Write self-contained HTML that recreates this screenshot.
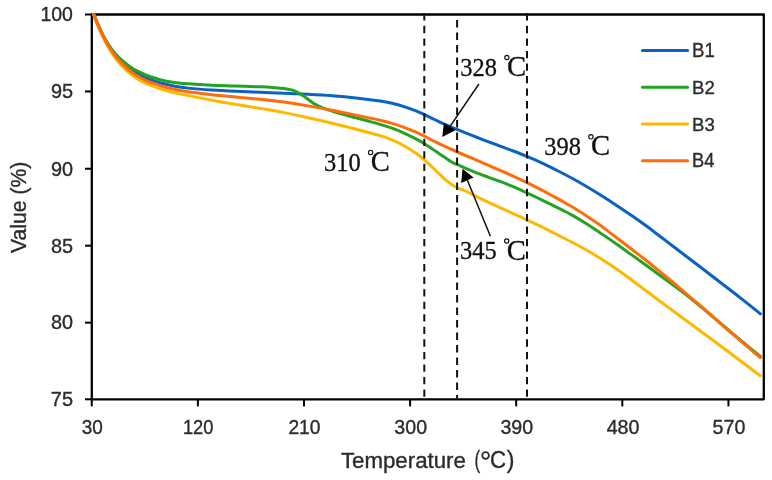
<!DOCTYPE html>
<html><head><meta charset="utf-8"><title>TGA chart</title>
<style>
html,body{margin:0;padding:0;background:#fff;}
body{width:772px;height:480px;overflow:hidden;}
svg{display:block;will-change:transform;filter:blur(0.65px);}
text{font-family:"Liberation Sans",sans-serif;fill:#2b2b2b;stroke:#2b2b2b;stroke-width:0.35px;}
.ser{font-family:"Liberation Serif",serif;fill:#111;stroke:#111;stroke-width:0.3px;}
</style></head><body>
<svg width="772" height="480" viewBox="0 0 772 480">
<rect x="0" y="0" width="772" height="480" fill="#ffffff"/>
<path d="M91.8,14.5 H763.8 V399.3 H91.8 Z" fill="none" stroke="#000" stroke-width="2.3" stroke-linejoin="round"/>
<path d="M93.75,14.60 C94.38,16.11 96.21,20.67 97.50,23.65 C98.79,26.62 100.33,30.02 101.50,32.45 C102.67,34.88 103.46,36.30 104.50,38.21 C105.54,40.12 106.62,42.06 107.75,43.90 C108.88,45.74 110.12,47.62 111.25,49.24 C112.38,50.86 113.38,52.18 114.50,53.60 C115.62,55.02 116.75,56.42 118.00,57.78 C119.25,59.14 120.67,60.51 122.00,61.78 C123.33,63.05 124.67,64.27 126.00,65.42 C127.33,66.57 128.67,67.66 130.00,68.67 C131.33,69.68 132.83,70.72 134.00,71.50 C135.17,72.28 135.17,72.35 137.00,73.36 C138.83,74.37 142.33,76.36 145.00,77.55 C147.67,78.74 150.50,79.63 153.00,80.49 C155.50,81.35 157.50,82.01 160.00,82.72 C162.50,83.43 165.00,84.09 168.00,84.77 C171.00,85.44 174.67,86.22 178.00,86.77 C181.33,87.33 182.33,87.58 188.00,88.12 C193.67,88.66 204.00,89.48 212.00,90.02 C220.00,90.55 228.00,90.93 236.00,91.31 C244.00,91.70 252.00,91.99 260.00,92.32 C268.00,92.65 276.00,92.94 284.00,93.28 C292.00,93.62 300.00,93.93 308.00,94.35 C316.00,94.77 324.00,95.19 332.00,95.79 C340.00,96.39 348.00,97.08 356.00,97.95 C364.00,98.82 374.00,100.13 380.00,101.02 C386.00,101.91 388.00,102.37 392.00,103.29 C396.00,104.22 400.00,105.32 404.00,106.58 C408.00,107.83 412.67,109.52 416.00,110.81 C419.33,112.10 420.83,112.82 424.00,114.31 C427.17,115.79 431.50,118.04 435.00,119.73 C438.50,121.42 441.35,122.83 445.00,124.45 C448.65,126.07 453.15,127.92 456.90,129.46 C460.65,131.00 464.32,132.42 467.50,133.68 C470.68,134.94 472.58,135.70 476.00,137.02 C479.42,138.35 484.00,140.10 488.00,141.61 C492.00,143.11 496.00,144.55 500.00,146.04 C504.00,147.52 507.52,148.78 512.00,150.49 C516.48,152.21 522.48,154.52 526.90,156.34 C531.32,158.15 534.48,159.54 538.50,161.38 C542.52,163.23 546.83,165.34 551.00,167.40 C555.17,169.46 560.00,171.94 563.50,173.74 C567.00,175.55 568.58,176.37 572.00,178.24 C575.42,180.12 580.00,182.66 584.00,184.98 C588.00,187.31 592.00,189.72 596.00,192.18 C600.00,194.65 604.00,197.20 608.00,199.78 C612.00,202.36 616.00,204.98 620.00,207.64 C624.00,210.31 628.00,213.00 632.00,215.78 C636.00,218.56 640.00,221.41 644.00,224.32 C648.00,227.24 652.00,230.26 656.00,233.27 C660.00,236.29 664.67,239.88 668.00,242.42 C671.33,244.97 670.50,244.34 676.00,248.52 C681.50,252.71 692.67,261.17 701.00,267.53 C709.33,273.90 719.12,281.38 726.00,286.69 C732.88,292.00 736.52,294.86 742.25,299.38 C747.98,303.89 757.38,311.40 760.40,313.80" fill="none" stroke="#0a62c4" stroke-width="3.0" stroke-linecap="round" stroke-linejoin="round"/>
<path d="M93.75,14.60 C94.38,16.07 96.21,20.52 97.50,23.45 C98.79,26.38 100.33,29.74 101.50,32.15 C102.67,34.56 103.46,36.02 104.50,37.91 C105.54,39.80 106.62,41.70 107.75,43.50 C108.88,45.30 110.12,47.17 111.25,48.74 C112.38,50.31 113.38,51.58 114.50,52.90 C115.62,54.22 116.75,55.43 118.00,56.68 C119.25,57.93 120.67,59.21 122.00,60.38 C123.33,61.55 124.67,62.66 126.00,63.72 C127.33,64.78 128.67,65.84 130.00,66.77 C131.33,67.70 132.83,68.62 134.00,69.30 C135.17,69.98 135.17,69.95 137.00,70.86 C138.83,71.77 142.33,73.64 145.00,74.75 C147.67,75.86 150.50,76.68 153.00,77.49 C155.50,78.30 157.50,78.95 160.00,79.60 C162.50,80.26 165.00,80.87 168.00,81.42 C171.00,81.98 174.67,82.53 178.00,82.94 C181.33,83.35 182.33,83.48 188.00,83.86 C193.67,84.24 204.00,84.84 212.00,85.21 C220.00,85.58 228.00,85.82 236.00,86.09 C244.00,86.36 253.50,86.58 260.00,86.85 C266.50,87.11 271.00,87.40 275.00,87.67 C279.00,87.95 281.25,88.13 284.00,88.50 C286.75,88.87 289.42,89.35 291.50,89.90 C293.58,90.45 294.62,90.87 296.50,91.80 C298.38,92.73 300.83,94.27 302.75,95.50 C304.67,96.73 306.12,97.85 308.00,99.20 C309.88,100.55 311.75,102.23 314.00,103.60 C316.25,104.97 318.50,106.16 321.50,107.40 C324.50,108.64 328.25,109.84 332.00,111.05 C335.75,112.26 340.00,113.52 344.00,114.65 C348.00,115.79 352.00,116.80 356.00,117.86 C360.00,118.92 364.00,119.93 368.00,121.02 C372.00,122.10 376.00,123.15 380.00,124.34 C384.00,125.54 388.00,126.76 392.00,128.21 C396.00,129.65 400.00,131.25 404.00,133.03 C408.00,134.81 412.67,137.13 416.00,138.88 C419.33,140.63 420.83,141.54 424.00,143.51 C427.17,145.49 431.50,148.40 435.00,150.75 C438.50,153.10 442.17,155.68 445.00,157.60 C447.83,159.53 450.02,161.17 452.00,162.30 C453.98,163.43 454.32,163.26 456.90,164.40 C459.48,165.54 464.32,167.75 467.50,169.11 C470.68,170.48 472.58,171.27 476.00,172.60 C479.42,173.93 484.00,175.60 488.00,177.07 C492.00,178.55 496.00,179.93 500.00,181.46 C504.00,182.98 507.52,184.33 512.00,186.23 C516.48,188.13 522.48,190.82 526.90,192.84 C531.32,194.85 534.48,196.38 538.50,198.31 C542.52,200.24 546.83,202.35 551.00,204.41 C555.17,206.47 560.00,208.88 563.50,210.67 C567.00,212.47 568.58,213.26 572.00,215.18 C575.42,217.09 580.00,219.72 584.00,222.18 C588.00,224.63 592.00,227.24 596.00,229.90 C600.00,232.56 604.00,235.35 608.00,238.12 C612.00,240.90 616.00,243.72 620.00,246.55 C624.00,249.38 628.00,252.23 632.00,255.10 C636.00,257.97 640.00,260.87 644.00,263.77 C648.00,266.66 652.00,269.58 656.00,272.49 C660.00,275.40 664.00,278.29 668.00,281.23 C672.00,284.18 676.00,287.12 680.00,290.16 C684.00,293.19 688.00,296.29 692.00,299.47 C696.00,302.65 700.00,305.92 704.00,309.24 C708.00,312.56 712.67,316.55 716.00,319.39 C719.33,322.22 720.67,323.41 724.00,326.24 C727.33,329.07 732.00,333.04 736.00,336.40 C740.00,339.75 743.93,343.00 748.00,346.35 C752.07,349.70 758.33,354.81 760.40,356.50" fill="none" stroke="#22a322" stroke-width="3.0" stroke-linecap="round" stroke-linejoin="round"/>
<path d="M93.75,14.60 C94.38,16.29 96.21,21.49 97.50,24.75 C98.79,28.01 100.33,31.56 101.50,34.15 C102.67,36.74 103.46,38.28 104.50,40.31 C105.54,42.33 106.62,44.35 107.75,46.30 C108.88,48.26 110.12,50.29 111.25,52.04 C112.38,53.79 113.38,55.24 114.50,56.80 C115.62,58.36 116.75,59.83 118.00,61.38 C119.25,62.93 120.67,64.64 122.00,66.08 C123.33,67.52 124.67,68.79 126.00,70.02 C127.33,71.25 128.67,72.39 130.00,73.47 C131.33,74.55 132.83,75.67 134.00,76.50 C135.17,77.33 135.17,77.38 137.00,78.46 C138.83,79.53 142.33,81.66 145.00,82.95 C147.67,84.24 150.50,85.24 153.00,86.20 C155.50,87.16 157.50,87.90 160.00,88.70 C162.50,89.51 165.00,90.24 168.00,91.03 C171.00,91.82 174.67,92.69 178.00,93.45 C181.33,94.21 182.33,94.45 188.00,95.58 C193.67,96.71 204.00,98.76 212.00,100.24 C220.00,101.71 228.00,103.08 236.00,104.43 C244.00,105.78 252.00,106.99 260.00,108.36 C268.00,109.73 276.00,111.09 284.00,112.65 C292.00,114.21 300.00,115.93 308.00,117.71 C316.00,119.48 324.00,121.39 332.00,123.31 C340.00,125.23 348.00,127.16 356.00,129.22 C364.00,131.28 374.00,133.90 380.00,135.67 C386.00,137.45 388.00,138.19 392.00,139.87 C396.00,141.54 400.00,143.48 404.00,145.72 C408.00,147.97 412.67,151.02 416.00,153.34 C419.33,155.67 420.83,156.95 424.00,159.68 C427.17,162.41 431.50,166.46 435.00,169.75 C438.50,173.03 442.08,176.86 445.00,179.40 C447.92,181.94 450.52,183.63 452.50,185.00 C454.48,186.37 454.40,186.43 456.90,187.60 C459.40,188.77 464.32,190.55 467.50,192.00 C470.68,193.45 472.58,194.62 476.00,196.30 C479.42,197.98 484.00,200.21 488.00,202.10 C492.00,203.98 496.00,205.80 500.00,207.62 C504.00,209.44 507.52,210.99 512.00,213.02 C516.48,215.05 522.48,217.75 526.90,219.81 C531.32,221.86 534.48,223.38 538.50,225.35 C542.52,227.31 546.83,229.50 551.00,231.59 C555.17,233.69 560.00,236.14 563.50,237.92 C567.00,239.70 568.58,240.47 572.00,242.27 C575.42,244.08 580.00,246.49 584.00,248.73 C588.00,250.97 592.00,253.28 596.00,255.71 C600.00,258.14 604.00,260.69 608.00,263.32 C612.00,265.95 616.00,268.70 620.00,271.51 C624.00,274.33 628.00,277.26 632.00,280.21 C636.00,283.15 640.00,286.19 644.00,289.19 C648.00,292.19 652.00,295.21 656.00,298.20 C660.00,301.19 664.00,304.17 668.00,307.13 C672.00,310.10 676.00,313.04 680.00,315.99 C684.00,318.94 688.00,321.88 692.00,324.83 C696.00,327.78 700.00,330.73 704.00,333.68 C708.00,336.63 712.67,340.08 716.00,342.55 C719.33,345.03 720.35,345.78 724.00,348.51 C727.65,351.24 731.87,354.40 737.90,358.93 C743.93,363.46 756.48,372.91 760.20,375.70" fill="none" stroke="#fdb900" stroke-width="3.0" stroke-linecap="round" stroke-linejoin="round"/>
<path d="M93.75,14.60 C94.38,16.16 96.21,20.89 97.50,23.95 C98.79,27.01 100.33,30.46 101.50,32.95 C102.67,35.44 103.46,36.95 104.50,38.91 C105.54,40.87 106.62,42.81 107.75,44.70 C108.88,46.59 110.12,48.56 111.25,50.24 C112.38,51.92 113.38,53.31 114.50,54.80 C115.62,56.29 116.75,57.72 118.00,59.18 C119.25,60.64 120.67,62.21 122.00,63.58 C123.33,64.95 124.67,66.22 126.00,67.42 C127.33,68.62 128.67,69.72 130.00,70.77 C131.33,71.82 132.83,72.89 134.00,73.70 C135.17,74.52 135.17,74.60 137.00,75.66 C138.83,76.72 142.33,78.79 145.00,80.05 C147.67,81.31 150.50,82.27 153.00,83.20 C155.50,84.12 157.50,84.83 160.00,85.60 C162.50,86.37 165.00,87.08 168.00,87.82 C171.00,88.55 174.67,89.37 178.00,90.01 C181.33,90.65 182.33,90.89 188.00,91.67 C193.67,92.44 204.00,93.74 212.00,94.64 C220.00,95.54 228.00,96.27 236.00,97.05 C244.00,97.83 252.00,98.46 260.00,99.30 C268.00,100.14 276.00,101.01 284.00,102.11 C292.00,103.21 300.00,104.50 308.00,105.88 C316.00,107.25 324.00,108.80 332.00,110.34 C340.00,111.88 348.00,113.46 356.00,115.11 C364.00,116.75 374.00,118.85 380.00,120.22 C386.00,121.59 388.00,122.14 392.00,123.32 C396.00,124.51 400.00,125.85 404.00,127.33 C408.00,128.80 412.67,130.74 416.00,132.18 C419.33,133.63 420.83,134.40 424.00,135.97 C427.17,137.55 431.50,139.86 435.00,141.61 C438.50,143.36 441.35,144.78 445.00,146.47 C448.65,148.16 453.15,150.12 456.90,151.75 C460.65,153.39 464.32,154.93 467.50,156.29 C470.68,157.66 472.58,158.47 476.00,159.94 C479.42,161.41 484.00,163.38 488.00,165.10 C492.00,166.82 496.00,168.52 500.00,170.26 C504.00,172.01 507.52,173.52 512.00,175.56 C516.48,177.61 522.48,180.40 526.90,182.53 C531.32,184.65 534.48,186.26 538.50,188.33 C542.52,190.41 546.83,192.72 551.00,194.98 C555.17,197.25 560.00,199.94 563.50,201.92 C567.00,203.90 568.58,204.78 572.00,206.84 C575.42,208.89 580.00,211.65 584.00,214.24 C588.00,216.82 592.00,219.52 596.00,222.33 C600.00,225.15 604.00,228.13 608.00,231.11 C612.00,234.09 616.00,237.17 620.00,240.23 C624.00,243.29 628.00,246.38 632.00,249.47 C636.00,252.56 640.00,255.65 644.00,258.80 C648.00,261.94 652.00,265.10 656.00,268.34 C660.00,271.58 664.00,274.89 668.00,278.23 C672.00,281.58 676.00,284.99 680.00,288.39 C684.00,291.79 688.00,295.19 692.00,298.61 C696.00,302.03 700.00,305.45 704.00,308.92 C708.00,312.39 712.67,316.52 716.00,319.45 C719.33,322.38 720.67,323.61 724.00,326.52 C727.33,329.43 732.00,333.49 736.00,336.93 C740.00,340.37 743.95,343.71 748.00,347.14 C752.05,350.57 758.25,355.77 760.30,357.50" fill="none" stroke="#ff6d0a" stroke-width="3.0" stroke-linecap="round" stroke-linejoin="round"/>
<line x1="424.3" y1="13.3" x2="424.3" y2="397.2" stroke="#111" stroke-width="2.0" stroke-dasharray="7.3 5.24"/>
<line x1="457.1" y1="20.0" x2="457.1" y2="398.6" stroke="#111" stroke-width="2.0" stroke-dasharray="7.4 5.1"/>
<line x1="527.0" y1="13.3" x2="527.0" y2="397.2" stroke="#111" stroke-width="2.0" stroke-dasharray="7.3 5.24"/>
<line x1="85" y1="14.50" x2="91.8" y2="14.50" stroke="#000" stroke-width="2"/>
<text x="40.44" y="21.35" font-size="19.35" textLength="32.51" lengthAdjust="spacingAndGlyphs">100</text>
<line x1="85" y1="91.46" x2="91.8" y2="91.46" stroke="#000" stroke-width="2"/>
<text x="50.90" y="98.31" font-size="19.35" textLength="22.14" lengthAdjust="spacingAndGlyphs">95</text>
<line x1="85" y1="168.72" x2="91.8" y2="168.72" stroke="#000" stroke-width="2"/>
<text x="50.91" y="175.57" font-size="19.35" textLength="22.08" lengthAdjust="spacingAndGlyphs">90</text>
<line x1="85" y1="245.68" x2="91.8" y2="245.68" stroke="#000" stroke-width="2"/>
<text x="50.96" y="252.53" font-size="19.35" textLength="22.08" lengthAdjust="spacingAndGlyphs">85</text>
<line x1="85" y1="322.64" x2="91.8" y2="322.64" stroke="#000" stroke-width="2"/>
<text x="50.96" y="329.49" font-size="19.35" textLength="22.03" lengthAdjust="spacingAndGlyphs">80</text>
<line x1="85" y1="399.30" x2="91.8" y2="399.30" stroke="#000" stroke-width="2"/>
<text x="50.80" y="406.15" font-size="19.64" textLength="22.25" lengthAdjust="spacingAndGlyphs">75</text>
<line x1="91.75" y1="399.3" x2="91.75" y2="406.4" stroke="#000" stroke-width="2"/>
<text x="81.84" y="434.10" font-size="19.35" textLength="21.06" lengthAdjust="spacingAndGlyphs">30</text>
<line x1="197.86" y1="399.3" x2="197.86" y2="406.4" stroke="#000" stroke-width="2"/>
<text x="182.89" y="434.10" font-size="19.35" textLength="30.47" lengthAdjust="spacingAndGlyphs">120</text>
<line x1="303.98" y1="399.3" x2="303.98" y2="406.4" stroke="#000" stroke-width="2"/>
<text x="288.41" y="434.10" font-size="19.35" textLength="32.10" lengthAdjust="spacingAndGlyphs">210</text>
<line x1="410.09" y1="399.3" x2="410.09" y2="406.4" stroke="#000" stroke-width="2"/>
<text x="394.35" y="434.10" font-size="19.35" textLength="32.69" lengthAdjust="spacingAndGlyphs">300</text>
<line x1="516.20" y1="399.3" x2="516.20" y2="406.4" stroke="#000" stroke-width="2"/>
<text x="500.47" y="434.10" font-size="19.35" textLength="32.69" lengthAdjust="spacingAndGlyphs">390</text>
<line x1="622.32" y1="399.3" x2="622.32" y2="406.4" stroke="#000" stroke-width="2"/>
<text x="606.67" y="434.10" font-size="19.35" textLength="32.80" lengthAdjust="spacingAndGlyphs">480</text>
<line x1="728.43" y1="399.3" x2="728.43" y2="406.4" stroke="#000" stroke-width="2"/>
<text x="712.64" y="434.10" font-size="19.35" textLength="32.74" lengthAdjust="spacingAndGlyphs">570</text>
<text x="340.95" y="467.70" font-size="21.24" textLength="124.92" lengthAdjust="spacingAndGlyphs" stroke-width="0.6">Temperature</text>
<text x="474.49" y="467.50" font-size="23.00" textLength="5.60" lengthAdjust="spacingAndGlyphs" stroke-width="0.6">(</text>
<circle cx="485.6" cy="455.5" r="3.35" fill="none" stroke="#2b2b2b" stroke-width="1.8"/>
<text x="489.89" y="467.90" font-size="23.37" textLength="16.04" lengthAdjust="spacingAndGlyphs" stroke-width="0.6">C</text>
<text x="506.88" y="467.50" font-size="23.00" textLength="7.72" lengthAdjust="spacingAndGlyphs" stroke-width="0.6">)</text>
<g transform="translate(25.8,253.0) rotate(-90)"><text x="-0.05" y="0.00" font-size="21.24" textLength="91.35" lengthAdjust="spacingAndGlyphs" stroke-width="0.6">Value (%)</text></g>
<line x1="642.4" y1="50.4" x2="687.6" y2="50.4" stroke="#0a62c4" stroke-width="3.0" stroke-linecap="round"/>
<text x="692.01" y="57.10" font-size="19.49" textLength="22.79" lengthAdjust="spacingAndGlyphs">B1</text>
<line x1="642.4" y1="87.2" x2="687.6" y2="87.2" stroke="#22a322" stroke-width="3.0" stroke-linecap="round"/>
<text x="692.01" y="93.85" font-size="19.21" textLength="22.79" lengthAdjust="spacingAndGlyphs">B2</text>
<line x1="642.4" y1="123.9" x2="687.6" y2="123.9" stroke="#fdb900" stroke-width="3.0" stroke-linecap="round"/>
<text x="692.02" y="130.60" font-size="19.21" textLength="22.68" lengthAdjust="spacingAndGlyphs">B3</text>
<line x1="642.4" y1="160.7" x2="687.6" y2="160.7" stroke="#ff6d0a" stroke-width="3.0" stroke-linecap="round"/>
<text x="692.04" y="167.35" font-size="19.49" textLength="22.38" lengthAdjust="spacingAndGlyphs">B4</text>
<text class="ser" x="323.94" y="170.80" font-size="25.11" textLength="36.68" lengthAdjust="spacingAndGlyphs">310</text>
<circle cx="370.6" cy="152.4" r="2.15" fill="none" stroke="#111" stroke-width="1.15"/>
<text class="ser" x="370.75" y="170.90" font-size="28.68" textLength="19.11" lengthAdjust="spacingAndGlyphs">C</text>
<text class="ser" x="460.24" y="75.90" font-size="25.11" textLength="36.68" lengthAdjust="spacingAndGlyphs">328</text>
<circle cx="506.9" cy="57.5" r="2.15" fill="none" stroke="#111" stroke-width="1.15"/>
<text class="ser" x="507.05" y="76.00" font-size="28.68" textLength="19.11" lengthAdjust="spacingAndGlyphs">C</text>
<text class="ser" x="544.24" y="155.20" font-size="25.11" textLength="36.68" lengthAdjust="spacingAndGlyphs">398</text>
<circle cx="590.9" cy="136.8" r="2.15" fill="none" stroke="#111" stroke-width="1.15"/>
<text class="ser" x="591.05" y="155.30" font-size="28.68" textLength="19.11" lengthAdjust="spacingAndGlyphs">C</text>
<text class="ser" x="460.04" y="259.40" font-size="25.21" textLength="36.68" lengthAdjust="spacingAndGlyphs">345</text>
<circle cx="506.7" cy="241.0" r="2.15" fill="none" stroke="#111" stroke-width="1.15"/>
<text class="ser" x="506.85" y="259.50" font-size="28.68" textLength="19.11" lengthAdjust="spacingAndGlyphs">C</text>
<line x1="478.9" y1="84" x2="449.9" y2="126.6" stroke="#111" stroke-width="1.5"/>
<path d="M442.3,137 L443.9,122.9 L455.8,129.9 Z" fill="#000"/>
<line x1="490.4" y1="236.3" x2="467.4" y2="180.2" stroke="#111" stroke-width="1.5"/>
<path d="M462.5,168.7 L461.2,182.9 L473.5,177.6 Z" fill="#000"/>
</svg>
</body></html>
